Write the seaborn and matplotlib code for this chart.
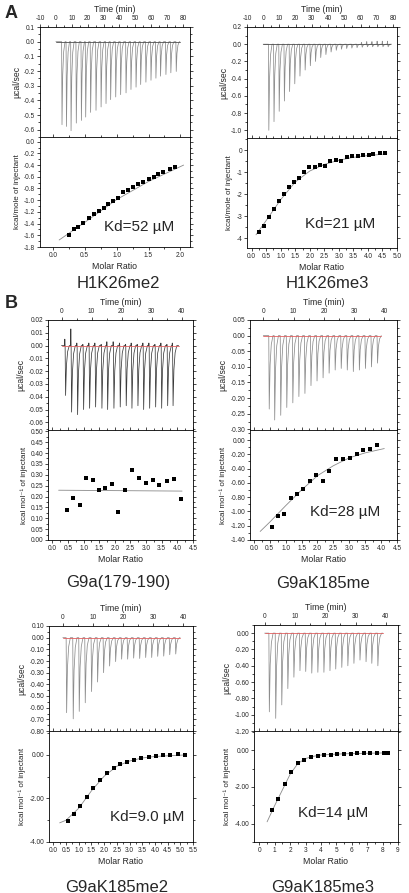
import numpy as np
import pandas as pd
import seaborn as sns
import matplotlib.pyplot as plt
from matplotlib.ticker import MultipleLocator, AutoMinorLocator, FormatStrFormatter

# %% DATA

# A left: H1K26me2
a1_time = [3.6, 6.4, 9.3, 12.6, 15.8, 18.5, 21.6, 25.0, 28.2, 31.3, 34.2, 37.4, 40.5, 43.9, 47.0, 50.2, 53.1, 56.4, 59.6, 62.7, 65.6, 69.0, 72.1, 75.5]
a1_dip = [-0.566, -0.578, -0.607, -0.555, -0.537, -0.514, -0.482, -0.468, -0.445, -0.422, -0.395, -0.377,
          -0.361, -0.349, -0.326, -0.310, -0.292, -0.276, -0.263, -0.249, -0.235, -0.224, -0.212, -0.203]
a1_ratio = [0.25, 0.33, 0.40, 0.48, 0.56, 0.64, 0.72, 0.80, 0.87, 0.94, 1.02, 1.10, 1.18, 1.26, 1.34, 1.42,
            1.50, 1.58, 1.65, 1.73, 1.83, 1.92]
a1_heat = [-1.59, -1.49, -1.46, -1.39, -1.31, -1.23, -1.18, -1.14, -1.06, -1.02, -0.96, -0.86, -0.83, -0.78,
           -0.73, -0.69, -0.63, -0.60, -0.55, -0.52, -0.47, -0.44]
a1_fit_ratio = [0.10, 0.50, 1.00, 1.50, 2.05]
a1_fit_heat = [-1.68, -1.38, -0.99, -0.68, -0.40]

# A right: H1K26me3
a2_time = [3.2, 6.4, 9.6, 12.8, 16.0, 19.2, 22.4, 25.6, 28.8, 32.0, 35.2, 38.4, 41.6, 44.8, 48.0, 51.2,
           54.4, 57.6, 60.8, 64.0, 67.2, 70.4, 73.6, 76.8]
a2_dip = [-1.00, -0.90, -0.78, -0.66, -0.55, -0.46, -0.37, -0.30, -0.25, -0.20, -0.155, -0.12, -0.09, -0.07,
          -0.058, -0.05, -0.045, -0.04, -0.035, -0.03, -0.03, -0.03, -0.03, -0.03]
a2_bump = [0, 0, 0, 0, 0, 0, 0, 0, 0, 0, 0, 0, 0, 0, 0, 0, 0, 0, 0.02, 0.03, 0.03, 0.035, 0.035, 0.035]
a2_ratio = [0.24, 0.42, 0.59, 0.76, 0.94, 1.11, 1.29, 1.46, 1.63, 1.81, 1.98, 2.17, 2.35, 2.53, 2.71, 2.89,
            3.08, 3.29, 3.46, 3.65, 3.84, 4.03, 4.19, 4.42, 4.59]
a2_heat = [-3.71, -3.43, -3.04, -2.68, -2.30, -1.98, -1.68, -1.46, -1.25, -1.01, -0.77, -0.78, -0.68, -0.72,
           -0.50, -0.44, -0.48, -0.30, -0.26, -0.26, -0.24, -0.21, -0.17, -0.11, -0.14]
a2_fit_ratio = [0.15, 0.50, 1.00, 1.50, 2.00, 2.50, 3.00, 3.50, 4.00, 4.65]
a2_fit_heat = [-3.85, -3.20, -2.25, -1.45, -0.95, -0.65, -0.46, -0.33, -0.25, -0.17]

# B left: G9a(179-190)
b1_time = [1.2, 3.2, 5.2, 7.2, 9.2, 11.2, 13.3, 15.2, 17.3, 19.4, 21.4, 23.3, 25.3, 27.2, 29.2, 31.2, 33.2,
           35.2, 37.0]
b1_dip = [-0.039, -0.052, -0.054, -0.050, -0.049, -0.048, -0.049, -0.050, -0.049, -0.048, -0.047, -0.049,
          -0.047, -0.050, -0.049, -0.048, -0.049, -0.047, -0.047]
b1_bump = [0.005, 0.013, 0.002, 0.001, 0.002, 0.002, 0.001, 0.003, 0.003, 0.002, 0.001, 0.002, 0.001, 0.002,
           0.002, 0.001, 0.002, 0.001, 0.002]
b1_ratio = [0.48, 0.67, 0.87, 1.08, 1.29, 1.50, 1.70, 1.91, 2.11, 2.33, 2.55, 2.77, 2.99, 3.22, 3.42, 3.66,
            3.90, 4.12]
b1_heat = [0.137, 0.193, 0.161, 0.285, 0.275, 0.232, 0.238, 0.256, 0.130, 0.229, 0.321, 0.284, 0.264, 0.276,
           0.255, 0.270, 0.281, 0.187]
b1_fit_ratio = [0.20, 4.15]
b1_fit_heat = [0.229, 0.225]

# B right: G9aK185me
b2_time = [1.8, 3.6, 5.6, 7.6, 9.6, 11.6, 13.6, 15.6, 17.6, 19.6, 21.6, 23.6, 25.6, 27.6, 29.6, 31.6, 33.6,
           35.6, 37.6]
b2_dip = [-0.235, -0.27, -0.255, -0.23, -0.215, -0.195, -0.185, -0.16, -0.145, -0.135, -0.12, -0.11, -0.105,
          -0.11, -0.115, -0.11, -0.105, -0.10, -0.088]
b2_ratio = [0.58, 0.75, 0.95, 1.16, 1.36, 1.56, 1.77, 1.97, 2.16, 2.37, 2.58, 2.80, 3.02, 3.23, 3.44, 3.65,
            3.87]
b2_heat = [-1.22, -1.07, -1.04, -0.81, -0.75, -0.69, -0.58, -0.49, -0.57, -0.43, -0.26, -0.26, -0.25, -0.20,
           -0.14, -0.12, -0.065]
b2_fit_ratio = [0.20, 0.50, 1.00, 1.50, 2.00, 2.50, 3.00, 3.50, 4.10]
b2_fit_heat = [-1.28, -1.15, -0.92, -0.70, -0.50, -0.36, -0.25, -0.18, -0.12]

# C left: G9aK185me2
c1_time = [1.1, 3.3, 5.3, 7.3, 9.4, 11.4, 13.4, 15.4, 17.4, 19.4, 21.4, 23.4, 25.4, 27.4, 29.4, 31.4, 33.4,
           35.4, 37.4]
c1_dip = [-0.643, -0.696, -0.632, -0.558, -0.462, -0.380, -0.300, -0.243, -0.205, -0.184, -0.184, -0.175,
          -0.178, -0.170, -0.170, -0.160, -0.158, -0.146, -0.140]
c1_ratio = [0.56, 0.81, 1.05, 1.31, 1.57, 1.85, 2.11, 2.38, 2.64, 2.91, 3.19, 3.46, 3.75, 4.03, 4.32, 4.59,
            4.90, 5.18]
c1_heat = [-3.02, -2.71, -2.34, -1.94, -1.52, -1.15, -0.85, -0.58, -0.42, -0.31, -0.22, -0.15, -0.08, -0.03,
           0.00, 0.00, 0.03, 0.00]
c1_fit_ratio = [0.25, 0.50, 1.00, 1.50, 2.00, 2.50, 3.00, 3.50, 4.00, 5.20]
c1_fit_heat = [-3.12, -3.00, -2.45, -1.65, -0.98, -0.52, -0.28, -0.14, -0.07, 0.00]

# C right: G9aK185me3
c2_time = [1.4, 3.5, 5.5, 7.5, 9.5, 11.5, 13.4, 15.4, 17.4, 19.4, 21.4, 23.3, 25.3, 27.3, 29.3, 31.3, 33.3,
           35.2, 37.2]
c2_dip = [-0.965, -1.045, -0.88, -0.68, -0.54, -0.46, -0.47, -0.49, -0.48, -0.48, -0.46, -0.44, -0.42, -0.40,
          -0.37, -0.33, -0.35, -0.37, -0.40]
c2_ratio = [0.82, 1.22, 1.65, 2.06, 2.49, 2.90, 3.35, 3.78, 4.20, 4.63, 5.06, 5.49, 5.92, 6.35, 6.76, 7.20,
            7.63, 8.06, 8.37]
c2_heat = [-3.27, -2.67, -1.85, -1.18, -0.71, -0.53, -0.36, -0.29, -0.25, -0.24, -0.22, -0.20, -0.18, -0.16,
           -0.16, -0.16, -0.15, -0.15, -0.15]
c2_fit_ratio = [0.50, 1.00, 1.50, 2.00, 2.50, 3.00, 3.50, 4.00, 5.00, 6.00, 8.40]
c2_fit_heat = [-3.90, -3.00, -2.15, -1.30, -0.72, -0.45, -0.33, -0.26, -0.21, -0.18, -0.14]

# %% SETUP

sns.set_style('ticks')
plt.rcParams['font.family'] = ['Liberation Sans', 'DejaVu Sans']
plt.rcParams['axes.unicode_minus'] = False

W, H = 410, 893
fig = plt.figure(figsize=(W / 100, H / 100), dpi=100)


def box(x0, y0, x1, y1):
    # pixel box (from top-left) -> figure axes
    return fig.add_axes([x0 / W, 1 - y1 / H, (x1 - x0) / W, (y1 - y0) / H])


def label(x, y, s, **kw):
    fig.text(x / W, 1 - y / H, s, ha='center', va='center', **kw)


def trace(times, dips, bumps, t_end, width):
    t, v = [0.0], [0.0]
    for ti, di, bi in zip(times, dips, bumps):
        t += [ti - 0.10 * width, ti - 0.05 * width, ti, ti + 0.08 * width, ti + 0.22 * width,
              ti + 0.42 * width, ti + 0.70 * width]
        v += [0.0, bi, 0.0, di, 0.4 * di, 0.12 * di, 0.0]
    t.append(t_end)
    v.append(0.0)
    return pd.DataFrame({'Time': t, 'Power': v})


def style(ax, xlim, ylim, xstep, ystep, xfmt, yfmt):
    ax.set_xlim(*xlim)
    ax.set_ylim(*ylim)
    ax.xaxis.set_major_locator(MultipleLocator(xstep))
    ax.yaxis.set_major_locator(MultipleLocator(ystep))
    ax.xaxis.set_minor_locator(AutoMinorLocator(2))
    ax.yaxis.set_minor_locator(AutoMinorLocator(2))
    ax.xaxis.set_major_formatter(FormatStrFormatter(xfmt))
    ax.yaxis.set_major_formatter(FormatStrFormatter(yfmt))
    ax.tick_params(which='both', direction='out', top=True, right=True, width=0.5,
                   labelsize=4.7, pad=1.2, color='black')
    ax.tick_params(which='major', length=2.4)
    ax.tick_params(which='minor', length=1.3)
    for s in ax.spines.values():
        s.set_linewidth(0.6)
        s.set_color('black')


def itc(xs, ytop, ymid, ybot, raw, tlim, tstep, plim, pstep, pfmt,
        ratio, heat, fit_x, fit_y, rlim, rstep, rfmt, hlim, hstep, hfmt,
        ylab, base_col, trace_col):
    top = box(xs[0], ytop, xs[1], ymid)
    sns.lineplot(data=raw, x='Time', y='Power', sort=False, estimator=None,
                 color=trace_col, lw=0.55, ax=top)
    base_end = raw['Time'].iloc[-1]
    sns.lineplot(x=[0, base_end], y=[0, 0], color=base_col, lw=0.6, ax=top)
    style(top, tlim, plim, tstep, pstep, '%g', pfmt)
    top.tick_params(axis='x', labeltop=True, labelbottom=False)
    top.xaxis.set_label_position('top')
    top.set_xlabel('Time (min)', fontsize=6.3, labelpad=2)
    top.set_ylabel('µcal/sec', fontsize=6.2, labelpad=2)

    bot = box(xs[0], ymid, xs[1], ybot)
    sns.lineplot(x=fit_x, y=fit_y, color='#8a8a8a', lw=0.6, ax=bot)
    sns.scatterplot(x=ratio, y=heat, marker='s', s=7, color='black', edgecolor='black',
                    linewidth=0, ax=bot, zorder=3)
    style(bot, rlim, hlim, rstep, hstep, rfmt, hfmt)
    bot.set_xlabel('Molar Ratio', fontsize=6.3, labelpad=2.5)
    bot.set_ylabel(ylab, fontsize=5.8, labelpad=2)
    return top, bot


zeros = lambda n: [0.0] * n
red = '#e06060'

# %% PANELS

itc((40, 190), 27, 137, 247, trace(a1_time, a1_dip, zeros(24), 78, 3.1),
    (-10, 84.4), 10, (-0.65, 0.1), 0.1, '%.1f',
    a1_ratio, a1_heat, a1_fit_ratio, a1_fit_heat, (-0.2, 2.15), 0.5, '%.1f',
    (-1.8, 0.08), 0.2, '%.1f', 'kcal/mole of injectant', '#505050', '#8c8c8c')

itc((247, 397), 27, 138, 248, trace(a2_time, a2_dip, a2_bump, 78, 3.2),
    (-10, 82.5), 10, (-1.09, 0.2), 0.2, '%.1f',
    a2_ratio, a2_heat, a2_fit_ratio, a2_fit_heat, (-0.16, 5.0), 0.5, '%.1f',
    (-4.45, 0.55), 1, '%g', 'kcal/mole of injectant', '#505050', '#8c8c8c')

itc((48, 193), 320, 430, 540, trace(b1_time, b1_dip, b1_bump, 39, 2.0),
    (-4.5, 43.8), 10, (-0.066, 0.02), 0.01, '%.2f',
    b1_ratio, b1_heat, b1_fit_ratio, b1_fit_heat, (-0.14, 4.5), 0.5, '%.1f',
    (0.0, 0.506), 0.05, '%.2f', 'kcal mol⁻¹ of injectant', red, '#3a3a3a')

itc((250, 397), 320, 430, 540, trace(b2_time, b2_dip, zeros(19), 39, 2.0),
    (-4.4, 44.2), 10, (-0.302, 0.05), 0.05, '%.2f',
    b2_ratio, b2_heat, b2_fit_ratio, b2_fit_heat, (-0.12, 4.5), 0.5, '%.1f',
    (-1.40, 0.14), 0.2, '%.2f', 'kcal mol⁻¹ of injectant', red, '#8c8c8c')

itc((49, 193), 626, 731, 842, trace(c1_time, c1_dip, zeros(19), 39, 2.0),
    (-4.6, 43.3), 10, (-0.80, 0.10), 0.1, '%.2f',
    c1_ratio, c1_heat, c1_fit_ratio, c1_fit_heat, (-0.17, 5.5), 0.5, '%.1f',
    (-4.0, 1.1), 2, '%.2f', 'kcal mol⁻¹ of injectant', red, '#8c8c8c')

itc((254, 398), 625, 731, 842, trace(c2_time, c2_dip, zeros(19), 39, 2.0),
    (-3.5, 44), 10, (-1.2, 0.10), 0.2, '%.2f',
    c2_ratio, c2_heat, c2_fit_ratio, c2_fit_heat, (-0.35, 9.0), 1, '%g',
    (-5.0, 1.05), 2, '%.2f', 'kcal mol⁻¹ of injectant', red, '#8c8c8c')

# %% TEXT

label(11, 14, 'A', fontsize=13, fontweight='bold')
label(11, 304, 'B', fontsize=13, fontweight='bold')

for x, y, s in [(118, 284, 'H1K26me2'), (327, 284, 'H1K26me3'),
                (118, 583, 'G9a(179-190)'), (323, 583, 'G9aK185me'),
                (117, 887, 'G9aK185me2'), (323, 887, 'G9aK185me3')]:
    label(x, y, s, fontsize=12)

for x, y, s in [(139, 227, 'Kd=52 µM'), (340, 224, 'Kd=21 µM'), (345, 512, 'Kd=28 µM'),
                (147, 817, 'Kd=9.0 µM'), (333, 813, 'Kd=14 µM')]:
    label(x, y, s, fontsize=11)

fig.savefig('out.png', dpi=100, facecolor='white')
